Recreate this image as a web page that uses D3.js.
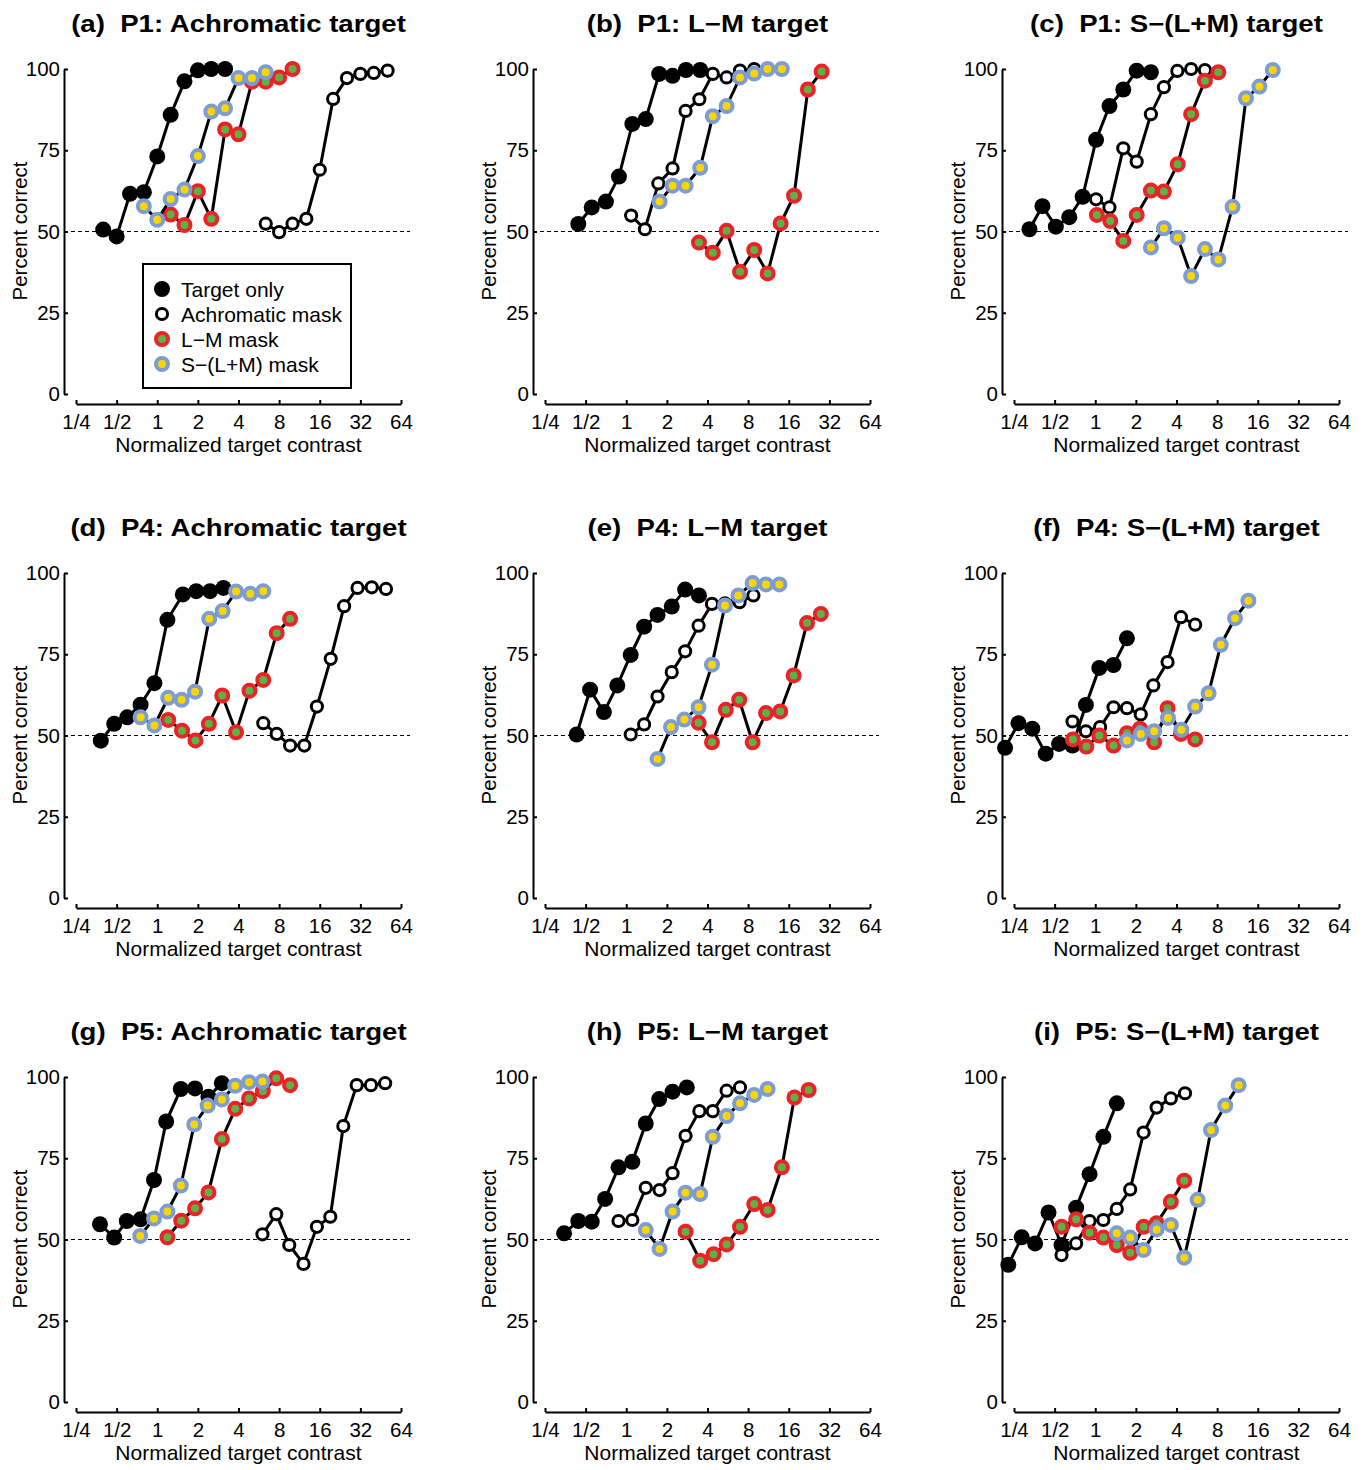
<!DOCTYPE html>
<html>
<head>
<meta charset="utf-8">
<script src="https://cdn.jsdelivr.net/npm/d3@7/dist/d3.min.js"></script>
<style>
body { margin: 0; background: #fff; }
text { font-family: Arial, "Liberation Sans", sans-serif; }
</style>
</head>
<body>
<svg id="chart" width="1368" height="1470"></svg>
<script>
// x values are log2(normalized target contrast), y values are percent correct

// (a) P1: Achromatic target
var aTarget = [[-1.33,50.6],[-1.0,48.5],[-0.67,61.6],[-0.33,62.1],[0,73.1],[0.33,85.9],[0.67,96.2],[1.0,99.6],[1.33,100],[1.67,100]];
var aAchro  = [[2.67,52.4],[3,49.8],[3.33,52.4],[3.67,53.9],[4,69],[4.33,90.8],[4.67,97.2],[5,98.5],[5.33,98.8],[5.67,99.5]];
var aLM     = [[0.33,55.2],[0.67,52],[1,62.4],[1.33,53.9],[1.67,81.4],[2,79.9],[2.33,96.1],[2.67,96.1],[3,97.4],[3.33,100]];
var aSLM    = [[-0.33,57.8],[0,53.6],[0.33,60],[0.67,62.9],[1,73.2],[1.33,86.9],[1.67,87.9],[2,97.2],[2.33,97.2],[2.67,99]];

// (b) P1: L-M target
var bTarget = [[-1.18,52.3],[-0.85,57.4],[-0.5,59.2],[-0.18,66.9],[0.15,83.1],[0.48,84.6],[0.81,98.5],[1.14,97.9],[1.47,99.7],[1.82,99.7]];
var bAchro  = [[0.12,54.9],[0.46,50.7],[0.79,64.8],[1.14,69.4],[1.46,87.1],[1.80,90.7],[2.13,98.5],[2.47,97.4],[2.80,99.5],[3.15,100]];
var bLM     = [[1.79,46.6],[2.13,43.5],[2.47,50.2],[2.80,37.6],[3.15,44.3],[3.48,37.1],[3.80,52.5],[4.13,61],[4.47,93.7],[4.81,99.2]];
var bSLM    = [[0.82,59.2],[1.14,64.1],[1.46,64.1],[1.82,69.6],[2.13,85.5],[2.47,88.6],[2.80,97.4],[3.15,98.6],[3.48,100],[3.83,100]];

// (c) P1: S-(L+M) target
var cTarget = [[-1.62,50.7],[-1.30,57.8],[-0.97,51.5],[-0.64,54.4],[-0.31,60.7],[0.02,78.2],[0.35,88.6],[0.69,93.7],[1.02,99.5],[1.37,99]];
var cAchro  = [[0.02,59.9],[0.35,57.4],[0.69,75.6],[1.02,71.5],[1.37,86.1],[1.69,94.4],[2.02,99.4],[2.36,100],[2.70,99.7]];
var cLM     = [[0.04,55.1],[0.37,53.2],[0.69,47.1],[1.02,55.1],[1.37,62.6],[1.69,62.3],[2.03,70.7],[2.36,86.1],[2.70,96.4],[3.03,99]];
var cSLM    = [[1.37,45.1],[1.69,51],[2.03,48.1],[2.36,36.3],[2.70,44.6],[3.03,41.4],[3.38,57.6],[3.71,91],[4.04,94.6],[4.37,99.7]];

// (d) P4: Achromatic target
var dTarget = [[-1.39,48.4],[-1.06,53.6],[-0.74,55.6],[-0.41,59.5],[-0.07,66.1],[0.25,85.6],[0.63,93.4],[0.96,94.4],[1.30,94.4],[1.63,95.4]];
var dAchro  = [[2.61,53.8],[2.94,50.5],[3.27,46.9],[3.62,46.9],[3.93,58.9],[4.27,73.6],[4.60,89.8],[4.93,95.4],[5.28,95.6],[5.63,95.1]];
var dLM     = [[0.27,54.8],[0.61,51.5],[0.94,48.5],[1.27,53.6],[1.60,62.3],[1.94,51],[2.27,63.8],[2.61,67.1],[2.94,81.5],[3.27,85.9]];
var dSLM    = [[-0.41,55.6],[-0.07,53.1],[0.27,61.6],[0.60,61],[0.93,63.5],[1.28,85.9],[1.61,88.3],[1.94,94.3],[2.29,93.6],[2.61,94.4]];

// (e) P4: L-M target
var eTarget = [[-1.22,50.3],[-0.89,64.1],[-0.55,57.2],[-0.22,65.4],[0.11,74.8],[0.44,83.5],[0.77,87.1],[1.12,89.7],[1.45,94.9],[1.79,93.1]];
var eAchro  = [[0.11,50.3],[0.44,53.4],[0.77,62],[1.12,69.5],[1.45,75.9],[1.78,83.8],[2.11,90.5],[2.43,90.7],[2.79,91],[3.13,93.1]];
var eLM     = [[1.78,53.9],[2.11,47.9],[2.45,57.9],[2.78,61],[3.11,47.9],[3.44,56.9],[3.79,57.4],[4.12,68.5],[4.45,84.6],[4.79,87.4]];
var eSLM    = [[0.77,42.8],[1.10,52.6],[1.43,54.9],[1.78,58.7],[2.11,71.8],[2.43,90],[2.76,93.1],[3.11,96.9],[3.44,96.5],[3.77,96.5]];

// (f) P4: S-(L+M) target
var fTarget = [[-2.22,46.2],[-1.89,53.8],[-1.55,52.1],[-1.22,44.4],[-0.89,47.4],[-0.56,46.9],[-0.23,59.4],[0.10,70.8],[0.45,71.7],[0.78,79.9]];
var fAchro  = [[-0.56,54.3],[-0.23,51.3],[0.12,52.6],[0.45,58.7],[0.78,58.4],[1.12,56.5],[1.43,65.4],[1.78,72.6],[2.11,86.4],[2.46,84.1]];
var fLM     = [[-0.55,48.8],[-0.22,46.6],[0.10,50],[0.45,46.9],[0.78,50.7],[1.10,52.1],[1.45,47.9],[1.78,58.4],[2.11,50.5],[2.46,48.8]];
var fSLM    = [[0.78,48.5],[1.12,50.5],[1.45,51.3],[1.79,55.4],[2.12,51.8],[2.46,58.9],[2.79,63],[3.09,77.9],[3.44,86.1],[3.77,91.5]];

// (g) P5: Achromatic target
var gTarget = [[-1.41,54.7],[-1.06,50.6],[-0.75,55.7],[-0.41,56.2],[-0.08,68.3],[0.22,86.3],[0.58,96.3],[0.93,96.5],[1.26,93.9],[1.59,98.1]];
var gAchro  = [[2.59,51.6],[2.93,57.8],[3.25,48.3],[3.60,42.5],[3.93,53.9],[4.26,57],[4.58,84.9],[4.91,97.5],[5.26,97.5],[5.61,98.1]];
var gLM     = [[0.25,50.7],[0.59,55.8],[0.93,59.6],[1.26,64.5],[1.59,80.9],[1.92,90.2],[2.26,93.4],[2.60,95.7],[2.93,99.6],[3.27,97.5]];
var gSLM    = [[-0.42,51.1],[-0.08,56.5],[0.25,58.6],[0.58,66.6],[0.91,85.4],[1.24,91.2],[1.59,93.1],[1.92,97.3],[2.26,98.4],[2.59,98.6]];

// (h) P5: L-M target
var hTarget = [[-1.53,51.9],[-1.18,55.7],[-0.85,55.5],[-0.52,62.5],[-0.19,72.2],[0.15,73.9],[0.48,85.7],[0.81,93.2],[1.14,95.5],[1.49,96.8]];
var hAchro  = [[-0.19,55.7],[0.15,56],[0.48,65.9],[0.82,65.2],[1.14,70.4],[1.46,81.9],[1.80,89.5],[2.13,89.5],[2.47,95.8],[2.80,96.8]];
var hLM     = [[1.46,52.4],[1.82,43.5],[2.15,45.5],[2.47,48.5],[2.80,53.9],[3.15,60.9],[3.48,59.1],[3.83,72.2],[4.14,93.7],[4.49,96]];
var hSLM    = [[0.48,52.9],[0.82,47.1],[1.14,58.6],[1.46,64.4],[1.82,64],[2.13,81.6],[2.47,88],[2.80,91.9],[3.15,94.5],[3.48,96.3]];

// (i) P5: S-(L+M) target (first point lies just left of the axis)
var iTarget = [[-2.47,46],[-2.14,42.2],[-1.81,50.7],[-1.48,48.8],[-1.15,58.3],[-0.83,48.3],[-0.47,59.8],[-0.14,70.1],[0.20,81.6],[0.53,91.9]];
var iAchro  = [[-0.83,45.2],[-0.47,48.8],[-0.14,55.7],[0.20,56],[0.53,59.4],[0.86,65.4],[1.19,82.9],[1.51,90.6],[1.86,93.4],[2.21,95]];
var iLM     = [[-0.83,53.9],[-0.47,56.2],[-0.14,52.1],[0.20,50.6],[0.53,48.3],[0.86,45.9],[1.19,53.9],[1.51,55],[1.86,61.6],[2.19,68.1]];
var iSLM    = [[0.53,51.9],[0.86,50.6],[1.19,46.8],[1.51,53.1],[1.86,54.5],[2.19,44.4],[2.52,62.2],[2.85,83.7],[3.20,91.2],[3.53,97.5]];

var titles = [
  "(a)  P1: Achromatic target", "(b)  P1: L\u2212M target", "(c)  P1: S\u2212(L+M) target",
  "(d)  P4: Achromatic target", "(e)  P4: L\u2212M target", "(f)  P4: S\u2212(L+M) target",
  "(g)  P5: Achromatic target", "(h)  P5: L\u2212M target", "(i)  P5: S\u2212(L+M) target"
];
var seriesNames = ["Target only", "Achromatic mask", "L\u2212M mask", "S\u2212(L+M) mask"];
var xTickValues = [-2, -1, 0, 1, 2, 3, 4, 5, 6];
var xTickLabels = ["1/4", "1/2", "1", "2", "4", "8", "16", "32", "64"];
var yTickValues = [0, 25, 50, 75, 100];

var panels = [
  [aTarget, aAchro, aLM, aSLM], [bTarget, bAchro, bLM, bSLM], [cTarget, cAchro, cLM, cSLM],
  [dTarget, dAchro, dLM, dSLM], [eTarget, eAchro, eLM, eSLM], [fTarget, fAchro, fLM, fSLM],
  [gTarget, gAchro, gLM, gSLM], [hTarget, hAchro, hLM, hSLM], [iTarget, iAchro, iLM, iSLM]
];

// marker looks, in the same order as the series
var markers = [
  {r: 8,   fill: "#000",    stroke: "none",    sw: 0},
  {r: 5.6, fill: "#fff",    stroke: "#000",    sw: 3},
  {r: 6,   fill: "#5bb14a", stroke: "#ec2227", sw: 4},
  {r: 6,   fill: "#ffd500", stroke: "#7b9dd4", sw: 4}
];

var colX = [0, 469, 938];
var rowY = [0, 504, 1008];
var yAxisX = 64;
var xAxisY = 404;

var x = d3.scaleLinear().domain([-2, 6]).range([76, 401]);
var y = d3.scaleLinear().domain([0, 100]).range([394, 69]);
var xMin = x.invert(yAxisX);   // left edge of the axes box

var line = d3.line()
  .x(function(d) { return x(d[0]); })
  .y(function(d) { return y(d[1]); });

var svg = d3.select("#chart");

// lines are cut at the left edge of the axes box
svg.append("defs").append("clipPath")
  .attr("id", "plotclip")
  .append("rect")
  .attr("x", yAxisX).attr("y", 40)
  .attr("width", 380).attr("height", 380);

function drawMarker(sel, m) {
  sel.attr("r", m.r)
    .attr("fill", m.fill)
    .attr("stroke", m.stroke)
    .attr("stroke-width", m.sw);
}

panels.forEach(function(series, p) {
  var g = svg.append("g")
    .attr("transform", "translate(" + colX[p % 3] + "," + rowY[Math.floor(p / 3)] + ")");

  // title
  g.append("text")
    .attr("transform", "translate(238.5,32) scale(1.2,1)")
    .attr("text-anchor", "middle")
    .style("white-space", "pre")
    .attr("font-size", "23px").attr("font-weight", "bold")
    .text(titles[p]);

  // chance line
  g.append("line")
    .attr("x1", yAxisX).attr("x2", 410)
    .attr("y1", y(50)).attr("y2", y(50))
    .attr("stroke", "#000").attr("stroke-width", 1.2)
    .attr("stroke-dasharray", "4,3");

  var ya = g.append("g")
    .attr("transform", "translate(" + yAxisX + ",0)")
    .call(d3.axisLeft(y).tickValues(yTickValues).tickSizeInner(-4).tickSizeOuter(0).tickPadding(4));

  var xa = g.append("g")
    .attr("transform", "translate(0," + xAxisY + ")")
    .call(d3.axisBottom(x).tickValues(xTickValues)
      .tickFormat(function(d, i) { return xTickLabels[i]; })
      .tickSizeInner(-4).tickSizeOuter(0).tickPadding(10));

  [ya, xa].forEach(function(a) {
    a.attr("font-family", null).attr("font-size", null);
    a.selectAll("path, line").attr("stroke", "#000").attr("stroke-width", 2);
    a.selectAll("text").attr("fill", "#000").style("font-size", "20.5px");
  });

  g.append("text")
    .attr("x", 238.5).attr("y", 452)
    .attr("text-anchor", "middle").attr("font-size", "21px")
    .text("Normalized target contrast");

  g.append("text")
    .attr("transform", "translate(27,231) rotate(-90)")
    .attr("text-anchor", "middle").attr("font-size", "20.5px")
    .text("Percent correct");

  // series: line first, then its markers, later series on top
  series.forEach(function(data, s) {
    g.append("path")
      .datum(data)
      .attr("clip-path", "url(#plotclip)")
      .attr("d", line)
      .attr("fill", "none")
      .attr("stroke", "#000")
      .attr("stroke-width", 3);

    g.selectAll(".m" + s)
      .data(data.filter(function(d) { return d[0] >= xMin; }))
      .enter()
      .append("circle")
      .attr("class", "m" + s)
      .attr("cx", function(d) { return x(d[0]); })
      .attr("cy", function(d) { return y(d[1]); })
      .call(drawMarker, markers[s]);
  });

  // legend only in the first panel
  if (p === 0) {
    var lg = g.append("g");
    lg.append("rect")
      .attr("x", 143).attr("y", 264)
      .attr("width", 208).attr("height", 124)
      .attr("fill", "#fff").attr("stroke", "#000").attr("stroke-width", 2);
    seriesNames.forEach(function(name, s) {
      var ly = 289 + s * 25;
      lg.append("circle")
        .attr("cx", 162).attr("cy", ly)
        .call(drawMarker, markers[s]);
      lg.append("text")
        .attr("x", 181).attr("y", ly + 7.5)
        .attr("font-size", "21px")
        .text(name);
    });
  }
});
</script>
</body>
</html>
